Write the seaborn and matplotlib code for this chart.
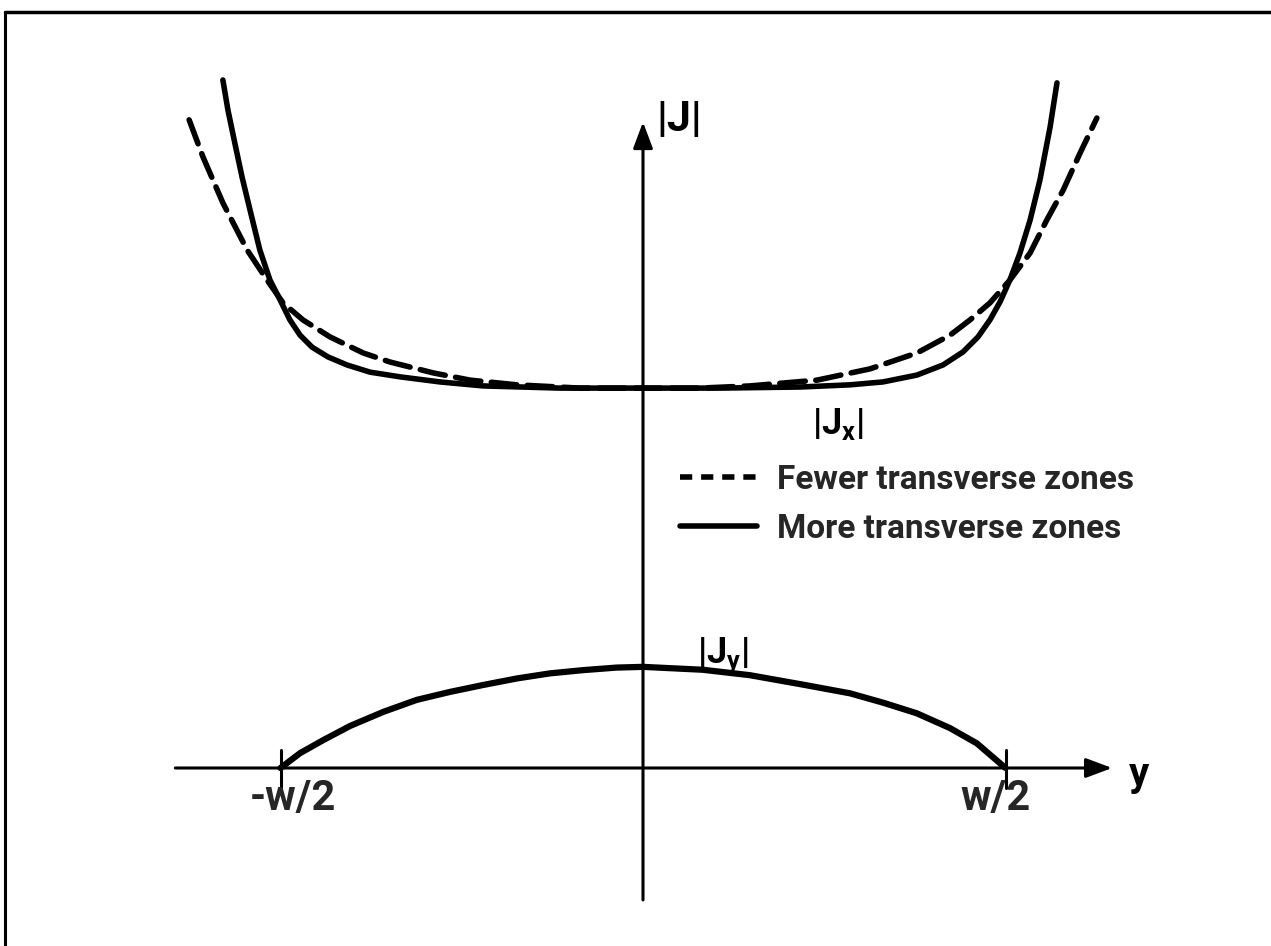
import numpy as np
import pandas as pd
import matplotlib
matplotlib.use("Agg")
import matplotlib.pyplot as plt
from matplotlib.lines import Line2D
import seaborn as sns

# Transverse coordinate y in units of w/2, current magnitudes in the same units
y_fewer = [-1.252, -1.214, -1.159, -1.092, -1.037, -0.993, -0.938, -0.863, -0.772,
           -0.698, -0.579, -0.477, -0.348, -0.174, 0.0, 0.157, 0.295, 0.480, 0.626,
           0.756, 0.847, 0.902, 0.957, 1.012, 1.068, 1.114, 1.159, 1.206, 1.252]
jx_fewer = [1.788, 1.686, 1.559, 1.429, 1.346, 1.283, 1.236, 1.189, 1.145,
            1.120, 1.090, 1.070, 1.057, 1.048, 1.048, 1.048, 1.054, 1.070, 1.101,
            1.145, 1.194, 1.236, 1.283, 1.346, 1.421, 1.512, 1.594, 1.697, 1.793]

y_more = [-1.159, -1.145, -1.126, -1.106, -1.084, -1.057, -1.029, -1.001, -0.974,
          -0.946, -0.913, -0.869, -0.817, -0.753, -0.670, -0.560, -0.441, -0.229,
          0.0, 0.212, 0.433, 0.571, 0.662, 0.756, 0.828, 0.883, 0.924, 0.957,
          0.985, 1.012, 1.040, 1.068, 1.095, 1.123, 1.142]
jx_more = [1.898, 1.815, 1.724, 1.630, 1.539, 1.429, 1.346, 1.291, 1.236,
           1.194, 1.161, 1.134, 1.112, 1.092, 1.079, 1.065, 1.054, 1.048,
           1.048, 1.048, 1.051, 1.057, 1.065, 1.084, 1.112, 1.148, 1.189, 1.236,
           1.286, 1.346, 1.421, 1.512, 1.622, 1.768, 1.890]

y_jy = [-1.0, -0.946, -0.882, -0.808, -0.716, -0.624, -0.532, -0.441, -0.348,
        -0.257, -0.165, -0.073, 0.0, 0.165, 0.295, 0.441, 0.571, 0.663, 0.755,
        0.847, 0.921, 1.0]
jy = [0.0, 0.041, 0.077, 0.116, 0.155, 0.188, 0.210, 0.229, 0.247,
      0.261, 0.270, 0.277, 0.279, 0.271, 0.256, 0.230, 0.206, 0.180, 0.151,
      0.110, 0.068, 0.0]

zone_labels = ["Fewer transverse zones", "More transverse zones"]
edge_ticks = [-1.0, 1.0]
edge_tick_labels = ["-w/2", "w/2"]

sns.set_theme(style="white")
plt.rcParams["font.family"] = ["Roboto", "DejaVu Sans"]
plt.rcParams["mathtext.fontset"] = "custom"
plt.rcParams["mathtext.rm"] = "Roboto:bold"
plt.rcParams["mathtext.default"] = "rm"

W, H = 1271, 946
fig = plt.figure(figsize=(W / 100, H / 100), dpi=100)
ax = fig.add_axes([0, 0, 1, 1])
ax.set_axis_off()

# one data unit = 362.5 px, origin at pixel (643, 768)
s = 362.5
ax.set_xlim(-643 / s, (W - 643) / s)
ax.set_ylim((768 - H) / s, 768 / s)

df = pd.DataFrame({
    "y": y_fewer + y_more,
    "J": jx_fewer + jx_more,
    "zones": [zone_labels[0]] * len(y_fewer) + [zone_labels[1]] * len(y_more),
})
dash_pat = (4.6, 1.9)
sns.lineplot(data=df, x="y", y="J", style="zones",
             dashes={zone_labels[0]: dash_pat, zone_labels[1]: ""},
             color="black", lw=4, sort=False, estimator=None, legend=False,
             ax=ax, solid_capstyle="round", dash_capstyle="round",
             solid_joinstyle="round", dash_joinstyle="round")
sns.lineplot(x=y_jy, y=jy, color="black", lw=4.5, sort=False, estimator=None,
             ax=ax, solid_capstyle="round", solid_joinstyle="round")

# axes drawn as arrows
arrow_kw = dict(arrowstyle="-|>,head_length=0.8,head_width=0.3", lw=2.2,
                color="black", shrinkA=0, shrinkB=0, mutation_scale=20)
ax.annotate("", xy=(1.294, 0), xytext=(-1.29, 0), arrowprops=arrow_kw)
ax.annotate("", xy=(0, 1.782), xytext=(0, -0.364), arrowprops=arrow_kw)

# edge ticks and labels
label_shift = {-1.0: 0.033, 1.0: -0.028}
for t, lab in zip(edge_ticks, edge_tick_labels):
    ax.plot([t, t], [0.05, -0.055], color="black", lw=2.2)
    ax.text(t + label_shift[t], -0.083, lab, ha="center", va="center",
            fontsize=30, fontweight="bold")

txt_kw = dict(fontweight="bold", color="black")
ax.text(1.34, -0.018, "y", ha="left", va="center", fontsize=29, **txt_kw)
ax.text(0.038, 1.788, "|J|", ha="left", va="center", fontsize=31, **txt_kw)
ax.text(0.465, 0.95, "|J$_x$|", ha="left", va="center", fontsize=26, **txt_kw)
ax.text(0.15, 0.31, "|J$_y$|", ha="left", va="center", fontsize=26, **txt_kw)

handles = [
    Line2D([], [], color="black", lw=4, ls=(0, (2.2, 1.6)), dash_capstyle="butt"),
    Line2D([], [], color="black", lw=4),
]
leg = ax.legend(handles, zone_labels, loc="upper left",
                bbox_to_anchor=(680 / W, 1 - 464 / H), bbox_transform=fig.transFigure,
                frameon=False, borderpad=0, borderaxespad=0,
                handlelength=2.3, handletextpad=0.6, labelspacing=0.5,
                prop={"family": "Roboto", "weight": "bold", "size": 24})

# drawing border: top and left edges
fig.add_artist(Line2D([5 / W, 1], [1 - 12 / H, 1 - 12 / H], transform=fig.transFigure,
                      color="black", lw=2.5))
fig.add_artist(Line2D([5 / W, 5 / W], [0, 1 - 12 / H], transform=fig.transFigure,
                      color="black", lw=2.2))

fig.savefig("out.png", dpi=100, facecolor="white", edgecolor="none")
